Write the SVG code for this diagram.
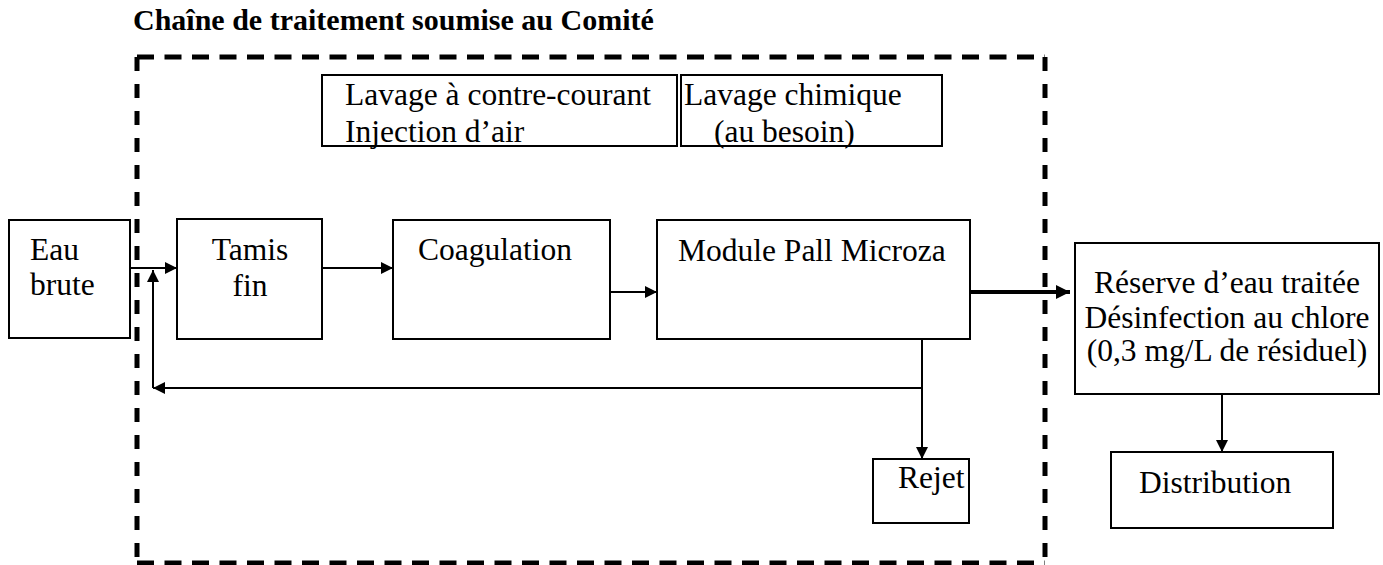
<svg xmlns="http://www.w3.org/2000/svg" width="1383" height="565" viewBox="0 0 1383 565">
<style>
.box{fill:#fff;stroke:#000;stroke-width:2}
text{font-family:'Liberation Serif','Times New Roman',Times,serif;fill:#000}
.t{font-size:31.5px}
.title{font-size:30px;font-weight:bold}
.ln{fill:none;stroke:#000;stroke-width:2}
.thick{fill:none;stroke:#000;stroke-width:4}
.dh{fill:none;stroke:#000;stroke-width:5;stroke-dasharray:17 10.5}
.dv{fill:none;stroke:#000;stroke-width:5;stroke-dasharray:14 13}
</style>
<defs>
<marker id="ah" viewBox="0 0 10 10" refX="10" refY="5" markerWidth="14" markerHeight="12" markerUnits="userSpaceOnUse" orient="auto">
<path d="M0,0 L10,5 L0,10 z" fill="#000"/>
</marker>
<marker id="ahk" viewBox="0 0 10 10" refX="10" refY="5" markerWidth="16" markerHeight="14" markerUnits="userSpaceOnUse" orient="auto">
<path d="M0,0 L10,5 L0,10 z" fill="#000"/>
</marker>
</defs>
<rect width="1383" height="565" fill="#fff"/>
<text class="title" x="133" y="30">Chaîne de traitement soumise au Comité</text>
<g id="boundary">
<path class="dh" d="M137,57 H1045"/>
<path class="dh" d="M137,563 H1045"/>
<path class="dv" d="M137,57 V563"/>
<path class="dv" d="M1045,57 V563"/>
</g>
<g id="lavage">
<rect class="box" x="322" y="75" width="355" height="71"/>
<text class="t" x="345" y="105">Lavage à contre-courant</text>
<text class="t" x="345" y="142">Injection d’air</text>
</g>
<g id="lavage-chimique">
<rect class="box" x="681" y="75" width="261" height="71"/>
<text class="t" x="684" y="105">Lavage chimique</text>
<text class="t" x="714" y="142">(au besoin)</text>
</g>
<g id="eau-brute">
<rect class="box" x="9" y="220" width="121" height="118"/>
<text class="t" x="30" y="260">Eau</text>
<text class="t" x="30" y="295">brute</text>
</g>
<g id="tamis">
<rect class="box" x="177" y="219" width="145" height="120"/>
<text class="t" x="250" y="260" text-anchor="middle">Tamis</text>
<text class="t" x="250" y="296" text-anchor="middle">fin</text>
</g>
<g id="coagulation">
<rect class="box" x="393" y="220" width="217" height="119"/>
<text class="t" x="418" y="260">Coagulation</text>
</g>
<g id="module">
<rect class="box" x="657" y="220" width="313" height="119"/>
<text class="t" x="678" y="261">Module Pall Microza</text>
</g>
<g id="reserve">
<rect class="box" x="1075" y="243" width="304" height="151"/>
<text class="t" x="1227" y="293" text-anchor="middle">Réserve d’eau traitée</text>
<text class="t" x="1227" y="328" text-anchor="middle">Désinfection au chlore</text>
<text class="t" x="1227" y="361" text-anchor="middle">(0,3 mg/L de résiduel)</text>
</g>
<g id="rejet">
<rect class="box" x="873" y="459" width="96" height="64"/>
<text class="t" x="898" y="488">Rejet</text>
</g>
<g id="distribution">
<rect class="box" x="1111" y="452" width="222" height="76"/>
<text class="t" x="1139" y="493">Distribution</text>
</g>
<g id="connectors">
<path class="ln" d="M130,268 H177" marker-end="url(#ah)"/>
<path class="ln" d="M322,268 H393" marker-end="url(#ah)"/>
<path class="ln" d="M610,292 H657" marker-end="url(#ah)"/>
<path class="thick" d="M970,292 H1070" marker-end="url(#ahk)"/>
<path class="ln" d="M922,339 V459" marker-end="url(#ah)"/>
<path class="ln" d="M922,388 H153" marker-end="url(#ah)"/>
<path class="ln" d="M153,388 V270" marker-end="url(#ah)"/>
<path class="ln" d="M1222,394 V452" marker-end="url(#ah)"/>
</g>
</svg>
